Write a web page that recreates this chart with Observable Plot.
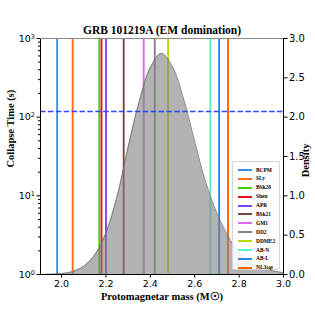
<!DOCTYPE html>
<html><head><meta charset="utf-8">
<script src="https://cdn.jsdelivr.net/npm/d3@7"></script>
<script src="https://cdn.jsdelivr.net/npm/@observablehq/plot@0.6"></script>
<style>
body{margin:0;background:#fff}
#wrap{position:relative;width:315px;height:315px}
</style>
</head><body><div id="wrap"></div>
<script>
const titleText = "GRB 101219A (EM domination)";
const xLabel = "Protomagnetar mass (M☉)";
const yLabel = "Collapse Time (s)";
const y2Label = "Density";

const eosNames = ["BCPM","SLy","BSk20","Shen","APR","BSk21","GM1","DD2","DDME2","AB-N","AB-L","NL3ωρ"];
const eosMass  = [1.98, 2.05, 2.17, 2.18, 2.20, 2.28, 2.37, 2.42, 2.48, 2.67, 2.71, 2.75];
const eosColors = ["#3a8eea","#ff6d1a","#3fd400","#e5141c","#7f40ff","#7a4444","#e066f2","#858585","#bcd800","#55f5d0","#2f84e6","#ff6200"];

const densX = [1.90,1.95,2.00,2.05,2.10,2.15,2.20,2.25,2.30,2.35,2.40,2.45,2.50,2.55,2.60,2.65,2.70,2.75,2.80,2.85,2.90,2.95,3.00];
const densY = [0.001,0.004,0.012,0.037,0.105,0.25,0.53,0.99,1.62,2.20,2.63,2.81,2.64,2.23,1.69,1.17,0.78,0.49,0.28,0.15,0.085,0.047,0.023];

const collapseTime = 118;

const xTicks = [2.0,2.2,2.4,2.6,2.8,3.0];
const yTicks = [1,10,100,1000];
const yTickExp = ["0","1","2","3"];
const y2Ticks = [0.0,0.5,1.0,1.5,2.0,2.5,3.0];

const eos = eosNames.map((n,i)=>({name:n, m:eosMass[i]}));
const dens = densX.map((x,i)=>({x, d:densY[i]}));
const minor = [];
for (const k of [1,10,100]) for (let j=2;j<=9;j++) minor.push(k*j);

const serif = "Liberation Serif";
const chart = Plot.plot({
  width:315, height:315,
  marginLeft:40, marginRight:32, marginTop:38, marginBottom:41,
  style:{fontFamily:"DejaVu Sans", fontSize:"9px", background:"white", color:"black"},
  x:{domain:[1.905,3.0]},
  y:{type:"log", domain:[1,1000]},
  color:{domain:eosNames, range:eosColors},
  marks:[
    Plot.ruleX(eos, {x:"m", stroke:"name", strokeWidth:1.9}),
    Plot.areaY(dens, {x:"x", y1:1, y2:d=>10**d.d, fill:"gray", fillOpacity:0.6, curve:"catmull-rom"}),
    Plot.lineY(dens, {x:"x", y:d=>10**d.d, stroke:"#6e6e6e", strokeWidth:0.8, curve:"catmull-rom"}),
    Plot.ruleY([collapseTime], {stroke:"#2b46ff", strokeWidth:1.5, strokeDasharray:"5.5,2.4"}),
    Plot.frame({stroke:"black", strokeWidth:1}),
    Plot.ruleY([1000], {stroke:"#8a8a8a", strokeWidth:1}),
    Plot.axisX({ticks:xTicks, tickFormat:d=>d.toFixed(1), tickSize:3.5, tickPadding:2, label:null, fontSize:9.5}),
    Plot.axisY({ticks:yTicks, tickFormat:d=>"10^" + yTickExp[yTicks.indexOf(d)], tickSize:3.5, tickPadding:2, label:null, anchor:"left", fontSize:9.5, className:"ylog"}),
    Plot.axisY({ticks:minor, tickFormat:()=>"", tickSize:2, label:null, anchor:"left"}),
    Plot.axisY({ticks:y2Ticks.map(v=>10**v), tickFormat:d=>Math.log10(d).toFixed(1), tickSize:3.5, tickPadding:2, label:null, anchor:"right", fontSize:10}),
    Plot.text([titleText], {frameAnchor:"top", dy:-5, lineAnchor:"bottom", fontFamily:serif, fontWeight:"bold", fontSize:11.5}),
    Plot.text([xLabel], {frameAnchor:"bottom", dy:25, lineAnchor:"bottom", fontFamily:serif, fontWeight:"bold", fontSize:10.5}),
    Plot.text([yLabel], {frameAnchor:"left", dx:-30, dy:11, rotate:-90, lineAnchor:"middle", fontFamily:serif, fontWeight:"bold", fontSize:10.5}),
    Plot.text([y2Label], {frameAnchor:"right", dx:22, dy:-13, rotate:-90, lineAnchor:"middle", fontFamily:serif, fontWeight:"bold", fontSize:10.5})
  ]
});
// render exponent as real superscript
d3.select(chart).selectAll("text").each(function(){
  const t = this.textContent;
  const m = /^10\^(\d)$/.exec(t);
  if (m) {
    const sel = d3.select(this);
    sel.text("10");
    sel.append("tspan").attr("dy","-0.45em").attr("font-size","6.5px").text(m[1]);
  }
});
const wrap = d3.select("#wrap");
wrap.node().appendChild(chart);

// legend overlay
const leg = wrap.append("div")
  .style("position","absolute").style("left","232px").style("top","161px")
  .style("width","48px").style("height","109px")
  .style("background","rgba(255,255,255,0.85)")
  .style("border","0.8px solid #d6d6d6").style("border-radius","2px")
  .style("box-sizing","border-box");
eosNames.forEach((n,i)=>{
  const c = 8 + i*8.88;
  leg.append("div").style("position","absolute").style("left","5px").style("top",(c-1)+"px")
    .style("width","13.5px").style("height","2px").style("background",eosColors[i]);
  leg.append("div").style("position","absolute").style("left","23px").style("top",(c-3.4)+"px")
    .style("font-family",serif).style("font-weight","bold").style("font-size","5.4px")
    .style("line-height","6.4px").style("white-space","nowrap").text(n);
});
</script>
</body></html>
